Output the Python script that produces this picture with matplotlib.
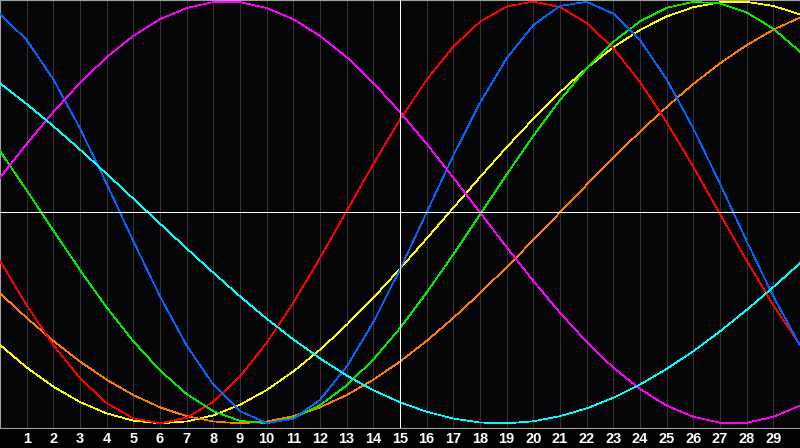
import matplotlib.pyplot as plt

# day offsets across the chart (0 = left edge, 30 = right edge)
days = list(range(0, 31))
tick_days = list(range(1, 30))
today = 15

# cycle values in percent at each day
physical = [94.2, 81.7, 63.1, 39.8, 13.6, -13.6, -39.8, -63.1, -81.7, -94.2, -99.8,
            -97.9, -88.8, -73.1, -52.0, -27.0, 0.0, 27.0, 52.0, 73.1, 88.8,
            97.9, 99.8, 94.2, 81.7, 63.1, 39.8, 13.6, -13.6, -39.8, -63.1]
emotional = [-22.9, -44.0, -62.9, -78.6, -90.4, -97.6, -100.0, -97.3, -89.8, -77.8, -61.8,
             -42.8, -21.6, 0.7, 22.9, 44.0, 62.9, 78.6, 90.4, 97.6, 100.0,
             97.3, 89.8, 77.8, 61.8, 42.8, 21.6, -0.7, -22.9, -44.0, -62.9]
intellectual = [29.1, 10.5, -8.6, -27.3, -45.0, -61.1, -74.9, -86.1, -94.2, -98.8, -99.9,
                -97.4, -91.4, -82.0, -69.7, -54.9, -38.0, -19.9, -1.0, 18.0, 36.3,
                53.3, 68.3, 80.9, 90.6, 97.0, 99.8, 99.1, 94.8, 87.1, 76.2]
intuitive = [16.5, 32.5, 47.6, 61.4, 73.6, 83.7, 91.6, 96.9, 99.7, 99.7, 96.9,
             91.6, 83.7, 73.6, 61.4, 47.6, 32.5, 16.5, 0.0, -16.5, -32.5,
             -47.6, -61.4, -73.6, -83.7, -91.6, -96.9, -99.7, -99.7, -96.9, -91.6]
aesthetic = [-62.8, -73.5, -82.6, -89.9, -95.3, -98.7, -100.0, -99.1, -96.2, -91.2, -84.2,
             -75.4, -65.1, -53.3, -40.5, -26.7, -12.4, 2.2, 16.7, 30.9, 44.4,
             57.0, 68.4, 78.3, 86.5, 92.9, 97.3, 99.6, 99.8, 97.9, 93.9]
awareness = [-38.3, -50.0, -60.9, -70.7, -79.3, -86.6, -92.4, -96.6, -99.1, -100.0, -99.1,
             -96.6, -92.4, -86.6, -79.3, -70.7, -60.9, -50.0, -38.3, -25.9, -13.1,
             0.0, 13.1, 25.9, 38.3, 50.0, 60.9, 70.7, 79.3, 86.6, 92.4]
spiritual = [61.2, 51.4, 40.9, 29.8, 18.3, 6.5, -5.3, -17.1, -28.6, -39.8, -50.4,
             -60.2, -69.2, -77.3, -84.3, -90.0, -94.5, -97.7, -99.6, -100.0, -99.0,
             -96.6, -92.9, -87.9, -81.6, -74.2, -65.8, -56.4, -46.2, -35.4, -24.1]

SERIES = [
    (aesthetic, '#ffff00'),
    (awareness, '#ff8000'),
    (emotional, '#ff0000'),
    (intellectual, '#00ee00'),
    (physical, '#0066ff'),
    (intuitive, '#ff00ff'),
    (spiritual, '#00ffff'),
]

fig = plt.figure(figsize=(8, 4.48), dpi=100, facecolor='black')
ax = fig.add_axes([0, 20 / 448, 1, 428 / 448])
ax.set_facecolor('#050508')

for d in tick_days:
    ax.axvline(d, color='#333333', lw=0.5, antialiased=False, zorder=1)

for values, color in SERIES:
    ax.plot(days, values, color=color, lw=0.5, antialiased=False, zorder=3)

ax.axhline(0, color='white', lw=0.7, antialiased=False, zorder=4)
ax.axvline(today, color='white', lw=0.7, antialiased=False, zorder=4)

ax.set_xlim(0, 30)
ax.set_ylim(-102.2, 100.7)
ax.set_yticks([])
ax.set_xticks(tick_days)
ax.set_xticklabels([str(d) for d in tick_days], color='white',
                   fontsize=10.5, fontweight='bold', family='Liberation Sans')
ax.tick_params(axis='x', length=0, pad=3)

for side in ['left', 'top', 'bottom']:
    ax.spines[side].set_color('#a0a0a0')
    ax.spines[side].set_linewidth(0.8)
ax.spines['right'].set_visible(False)

fig.savefig('out.png', dpi=100, facecolor='black')
